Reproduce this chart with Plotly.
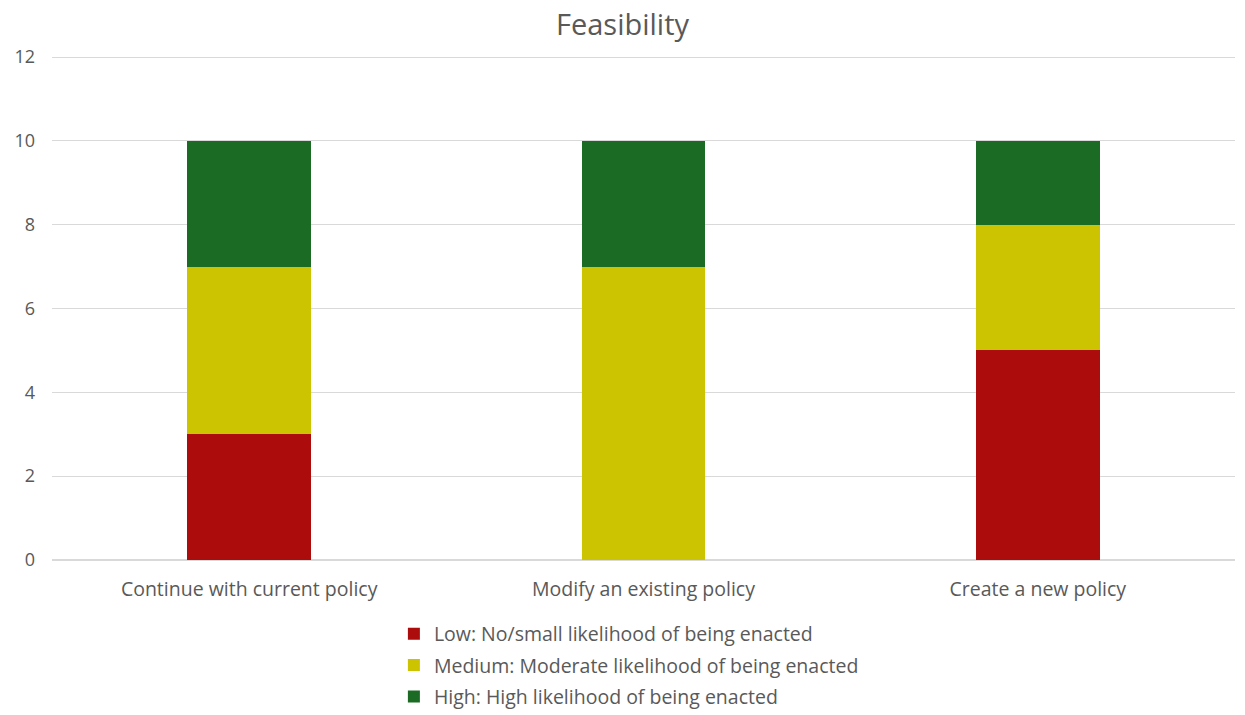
import plotly.graph_objects as go

categories = ["Continue with current policy", "Modify an existing policy", "Create a new policy"]
low_vals = [3, 0, 5]
medium_vals = [4, 7, 3]
high_vals = [3, 3, 2]
series_names = [
    "Low: No/small likelihood of being enacted",
    "Medium: Moderate likelihood of being enacted",
    "High: High likelihood of being enacted",
]
colors = ["#AD0C0C", "#CCC400", "#1B6B24"]
y_ticks = [0, 2, 4, 6, 8, 10, 12]

FONT = "'Open Sans', sans-serif"
GRAY = "#595959"

fig = go.Figure()
for i, (name, vals, col) in enumerate(zip(series_names, [low_vals, medium_vals, high_vals], colors)):
    fig.add_trace(go.Bar(
        x=categories, y=vals, name=name, marker=dict(color=col, line=dict(width=0)),
        width=0.313, legendgroup=f"g{i}",
    ))

fig.update_layout(
    barmode="stack",
    width=1245, height=715,
    margin=dict(l=52, r=10, t=55, b=155, autoexpand=False),
    paper_bgcolor="white", plot_bgcolor="white",
    font=dict(family=FONT, color=GRAY, size=16),
    title=dict(text="Feasibility", x=0.5, xanchor="center", y=0.965, yanchor="middle",
               font=dict(size=29, color=GRAY, family=FONT)),
    showlegend=True,
    legend=dict(orientation="v", x=0.289, xanchor="left", y=-0.108, yanchor="top",
                traceorder="grouped", tracegroupgap=3,
                font=dict(size=19.5, color=GRAY, family=FONT),
                itemwidth=30, bgcolor="rgba(0,0,0,0)"),
    bargap=0.687,
)
fig.update_xaxes(showline=False, ticks="", ticklabelstandoff=15,
                 tickfont=dict(size=19.5, color=GRAY))
fig.update_yaxes(range=[0, 12.05], tickvals=y_ticks, showgrid=True, gridcolor="#D9D9D9", gridwidth=1,
                 zeroline=True, zerolinecolor="#D9D9D9", ticks="", ticklabelstandoff=16,
                 tickfont=dict(size=18, color=GRAY))

fig.write_html("out.html")
